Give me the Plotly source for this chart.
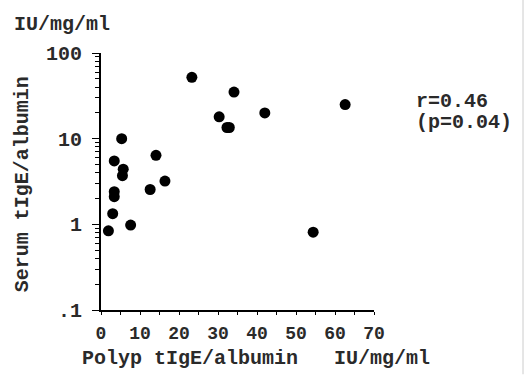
import plotly.graph_objects as go

# Data
polyp_tige = [23.3, 34.1, 30.3, 32.3, 32.9, 42.0, 62.6, 54.4,
              5.3, 3.4, 5.7, 5.5, 14.1, 16.4, 12.6, 3.4, 3.4, 3.0, 1.9, 7.6]
serum_tige = [52, 35, 18, 13.5, 13.5, 20, 25, 0.81,
              10, 5.5, 4.4, 3.7, 6.4, 3.2, 2.55, 2.4, 2.1, 1.33, 0.84, 0.98]

x_ticks = [0, 10, 20, 30, 40, 50, 60, 70]
y_ticks = [0.1, 1, 10, 100]
y_tick_labels = [".1", "1", "10", "100"]

FONT = "Liberation Mono"
TXT = "#2a2a2a"
FS = 20

fig = go.Figure()
fig.add_trace(go.Scatter(
    x=polyp_tige, y=serum_tige, mode="markers",
    marker=dict(color="black", size=11, line=dict(width=0)),
    showlegend=False,
))

fig.update_layout(
    width=524, height=375,
    margin=dict(l=101, r=150, t=53, b=65),
    paper_bgcolor="white", plot_bgcolor="white",
    font=dict(family=FONT, size=FS, color=TXT, weight="bold"),
    xaxis=dict(
        range=[0, 70], tickvals=x_ticks, ticktext=[str(v) for v in x_ticks],
        showline=True, linecolor="black", linewidth=2,
        ticks="outside", ticklen=3, tickcolor="black", tickwidth=1,
        minor=dict(dtick=5, ticks="outside", ticklen=3, tickcolor="black"),
        showgrid=False, zeroline=False,
        ticklabelstandoff=2,
        tickfont=dict(family=FONT, size=18, color=TXT, weight="bold"),
    ),
    yaxis=dict(
        type="log", range=[-1, 2],
        tickvals=y_ticks, ticktext=y_tick_labels,
        showline=True, linecolor="black", linewidth=2,
        ticks="outside", ticklen=7, tickcolor="black", tickwidth=1,
        minor=dict(ticks="outside", ticklen=4, tickcolor="black",
                   tickvals=[m * d for d in [0.1, 1, 10] for m in range(2, 10)]),
        showgrid=False, zeroline=False,
        ticklabelstandoff=6,
        tickfont=dict(family=FONT, size=FS, color=TXT, weight="bold"),
    ),
)

ann_font = dict(family=FONT, size=FS, color=TXT, weight="bold")
fig.add_annotation(text="IU/mg/ml", xref="paper", yref="paper",
                   x=-0.327, y=1.11, xanchor="left", yanchor="middle",
                   showarrow=False, font=ann_font)
fig.add_annotation(text="Serum tIgE/albumin", xref="paper", yref="paper",
                   x=-0.289, y=0.49, xanchor="center", yanchor="middle",
                   textangle=-90, showarrow=False, font=ann_font)
fig.add_annotation(text="Polyp tIgE/albumin   IU/mg/ml", xref="paper", yref="paper",
                   x=0.568, y=-0.19, xanchor="center", yanchor="middle",
                   showarrow=False, font=ann_font)
fig.add_annotation(text="r=0.46", xref="paper", yref="paper",
                   x=1.147, y=0.81, xanchor="left", yanchor="middle",
                   showarrow=False, font=ann_font)
fig.add_annotation(text="(p=0.04)", xref="paper", yref="paper",
                   x=1.147, y=0.73, xanchor="left", yanchor="middle",
                   showarrow=False, font=ann_font)
fig.add_shape(type="line", xref="paper", yref="paper",
              x0=1.5458, x1=1.5458, y0=-0.25, y1=1.21,
              line=dict(color="#cccccc", width=1))

fig.write_html("out.html", config={"displayModeBar": False},
               post_script="document.body.style.margin='0';")
